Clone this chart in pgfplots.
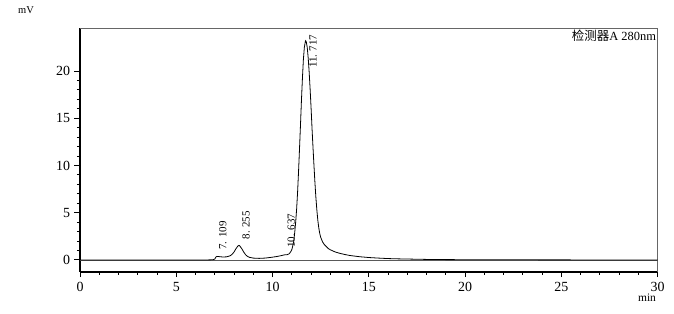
\documentclass[border=0pt]{standalone}
\usepackage{pgfplots}
\pgfplotsset{compat=1.18}
\usepackage{fontspec}
\setmainfont{Liberation Serif}
\newfontfamily\cjk{Noto Sans CJK SC}
\begin{document}
\begin{tikzpicture}
\useasboundingbox (-80bp,-42.3bp) rectangle (594bp,271.7bp);
\begin{axis}[
  at={(0,0)}, anchor=south west,
  scale only axis, width=577.7bp, height=243.2bp,
  xmin=0, xmax=30, ymin=-1.24, ymax=24.5,
  axis x line*=bottom, axis y line*=left,
  axis line style={-, line width=1.7pt, black},
  xtick={0,5,...,30}, ytick={0,5,...,20},
  minor x tick num=4, minor y tick num=4,
  tick align=outside,
  x tick style={black, line width=1pt},
  y tick style={black, line width=1pt},
  major tick length=5.5bp, minor tick length=3bp,
  /pgf/number format/assume math mode=true,
  ticklabel style={font=\fontsize{14}{14}\selectfont},
  xticklabel style={yshift=-2bp},
  yticklabel style={xshift=-1bp},
  clip=false,
]
\draw[gray!80!black, line width=1.1pt] (rel axis cs:0,1) -- (rel axis cs:1,1) -- (rel axis cs:1,0);
\addplot[gray!70!black, line width=0.7pt] coordinates {(0,0) (30,0)};
\addplot[black, line width=0.8pt] coordinates {
(0,0) (1,0) (2,0) (3,0) (4,0) (5,0) (6,0) (6.5,0) (6.9,0.02) (7.0,0.1) (7.05,0.3) (7.109,0.38)
(7.2,0.36) (7.4,0.32) (7.6,0.33) (7.7,0.38) (7.8,0.45) (7.9,0.6) (8.0,0.85) (8.1,1.2) (8.2,1.48) (8.255,1.55)
(8.3,1.48) (8.4,1.2) (8.5,0.85) (8.6,0.55) (8.7,0.38) (8.8,0.28) (9.0,0.2) (9.3,0.17) (9.6,0.2)
(9.9,0.27) (10.2,0.36) (10.4,0.44) (10.637,0.55) (10.75,0.56) (10.85,0.64)
(10.9,0.75) (10.95,0.9) (11.0,1.1) (11.05,1.5) (11.1,2.0) (11.15,2.9) (11.2,4.0) (11.25,5.4)
(11.3,7.2) (11.35,9.4) (11.4,11.8) (11.45,14.3) (11.5,16.9) (11.55,19.2) (11.6,21.2) (11.65,22.5)
(11.7,23.1) (11.717,23.2) (11.75,23.1) (11.8,22.5) (11.85,21.4) (11.9,19.9) (11.95,18.1) (12.0,16.1)
(12.05,13.9) (12.1,11.9) (12.15,10.0) (12.2,8.2) (12.25,6.6) (12.3,5.3) (12.35,4.2) (12.4,3.4)
(12.45,2.8) (12.5,2.4) (12.6,1.9) (12.7,1.6) (12.8,1.4) (12.9,1.2) (13.0,1.08) (13.25,0.85)
(13.5,0.7) (13.75,0.58) (14.0,0.48) (14.5,0.35) (15.0,0.26) (15.5,0.2) (16.0,0.15) (16.5,0.12)
(17.0,0.1) (18,0.06) (19,0.04) (20,0.03) (22,0.02) (25,0.01) (30,0)
};
\node[rotate=90, anchor=west, inner sep=0pt, font=\fontsize{11}{11}\selectfont] at (axis cs:7.42,1.06) {7. 109};
\node[rotate=90, anchor=west, inner sep=0pt, font=\fontsize{11}{11}\selectfont] at (axis cs:8.62,2.15) {8. 255};
\node[rotate=90, anchor=west, inner sep=0pt, font=\fontsize{11}{11}\selectfont] at (axis cs:10.97,1.3) {10. 637};
\node[rotate=90, anchor=west, inner sep=0pt, font=\fontsize{11}{11}\selectfont] at (axis cs:12.1,20.3) {11. 717};
\node[anchor=north east, inner sep=1.5pt, font=\fontsize{12.5}{12.5}\selectfont] at (rel axis cs:1,1) {{\cjk 检测器}A 280nm};
\end{axis}
\node[font=\fontsize{10.5}{10.5}\selectfont] at (-54bp,261.5bp) {mV};
\node[font=\fontsize{11.5}{11.5}\selectfont] at (567bp,-26bp) {min};
\end{tikzpicture}
\end{document}
